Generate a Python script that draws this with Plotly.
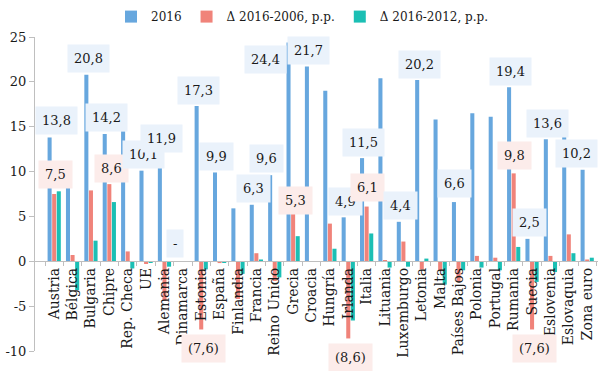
import plotly.graph_objects as go

categories = ["Austria", "Bélgica", "Bulgaria", "Chipre", "Rep. Checa", "UE", "Alemania",
              "Dinamarca", "Estonia", "España", "Finlandia", "Francia", "Reino Unido", "Grecia",
              "Croacia", "Hungría", "Irlanda", "Italia", "Lituania", "Luxemburgo", "Letonia",
              "Malta", "Países Bajos", "Polonia", "Portugal", "Rumania", "Suecia", "Eslovenia",
              "Eslovaquia", "Zona euro"]

v2016 = [13.8, 9.8, 20.8, 14.2, 14.5, 10.1, 11.9, None, 17.3, 9.9, 5.9, 6.3, 9.6, 24.4,
         21.7, 19.0, 4.9, 11.5, 20.4, 4.4, 20.2, 15.8, 6.6, 16.5, 16.1, 19.4, 2.5, 13.6,
         16.4, 10.2]
d2006 = [7.5, 0.7, 7.9, 8.6, 1.1, -0.3, -4.4, None, -7.6, -0.2, -4.2, 0.9, -2.2, 5.3,
         None, 4.2, -8.6, 6.1, 0.1, 2.2, -0.9, -1.1, -2.3, 0.6, 0.4, 9.8, -7.6, 0.6,
         3.0, 0.2]
d2012 = [7.8, -3.2, 2.3, 6.6, -0.8, -0.1, -0.6, None, -0.9, -0.1, -1.4, 0.2, -1.8, 2.8,
         None, 1.4, -6.6, 3.1, -0.7, -0.6, 0.3, -2.6, -1.0, -0.7, -1.0, 1.6, -2.3, -1.2,
         0.9, 0.4]

series_names = ["2016", "Δ 2016-2006, p.p.", "Δ 2016-2012, p.p."]
tick_vals = [-10, -5, 0, 5, 10, 15, 20, 25]
tick_text = ["-10", "-5", "0", "5", "10", "15", "20", "25"]

# labelled points: (category, series index, text)
labels = [
    ("Austria", 0, "13,8"), ("Austria", 1, "7,5"), ("Bulgaria", 0, "20,8"),
    ("Chipre", 0, "14,2"), ("Chipre", 1, "8,6"), ("UE", 0, "10,1"),
    ("Alemania", 0, "11,9"), ("Dinamarca", 0, "-"), ("Estonia", 0, "17,3"),
    ("Estonia", 1, "(7,6)"), ("España", 0, "9,9"), ("Francia", 0, "6,3"),
    ("Reino Unido", 0, "9,6"), ("Grecia", 0, "24,4"), ("Grecia", 1, "5,3"),
    ("Croacia", 0, "21,7"), ("Irlanda", 0, "4,9"), ("Irlanda", 1, "(8,6)"),
    ("Italia", 0, "11,5"), ("Italia", 1, "6,1"), ("Luxemburgo", 0, "4,4"),
    ("Letonia", 0, "20,2"), ("Países Bajos", 0, "6,6"), ("Rumania", 0, "19,4"),
    ("Rumania", 1, "9,8"), ("Suecia", 0, "2,5"), ("Suecia", 1, "(7,6)"),
    ("Eslovenia", 0, "13,6"), ("Zona euro", 0, "10,2"),
]

# style: label pixel nudges (dx, dy) that differ from default
nudges = {
    ("Austria", 0): (7, 17), ("Austria", 1): (1, 20), ("Reino Unido", 0): (-4, 17),
    ("Grecia", 0): (-23, -17), ("Grecia", 1): (2, 13), ("Zona euro", 0): (-6, 16),
    ("Países Bajos", 0): (1, 19), ("Italia", 1): (1, 19), ("Rumania", 1): (1, 18),
    ("Dinamarca", 0): (-3, 18),
}

colors = ["#67a7de", "#f0837a", "#1bbfb4"]
label_bg = ["#eaf2fb", "#fcecea", "#e6f7f5"]
FONT = "DejaVu Serif"

fig = go.Figure()
all_vals = [v2016, d2006, d2012]
for name, vals, col in zip(series_names, all_vals, colors):
    fig.add_trace(go.Bar(x=categories, y=vals, name=name, marker_color=col,
                         marker_line_width=0))

W, H = 600, 371
ml, mr, mt, mb = 35, 2, 37, 20
plot_w = W - ml - mr
cat_w = plot_w / len(categories)
bargap = 0.25
bar_w = cat_w * (1 - bargap) / 3
offsets = [-bar_w, 0, bar_w]

for cat, si, txt in labels:
    i = categories.index(cat)
    val = all_vals[si][i]
    if val is None:
        val = 0
    dx, dy = nudges.get((cat, si), (2, 16 if val >= 0 else -19))
    fig.add_annotation(x=cat, y=val, text=txt, showarrow=False,
                       xshift=offsets[si] + dx, yshift=dy, yanchor="middle",
                       bgcolor=label_bg[si], borderpad=6,
                       font=dict(family=FONT, size=13, color="#1a1a1a"))

ymin, ymax = -10, 25
fig.update_layout(
    width=W, height=H,
    margin=dict(l=ml, r=mr, t=mt, b=mb),
    paper_bgcolor="white", plot_bgcolor="white",
    barmode="group", bargap=bargap, bargroupgap=0.12,
    font=dict(family=FONT, size=13, color="#1a1a1a"),
    legend=dict(orientation="h", x=0.135, xanchor="left", y=1.065, yanchor="middle",
                font=dict(family=FONT, size=12), bgcolor="rgba(0,0,0,0)",
                itemwidth=30),
    showlegend=True,
)
fig.update_yaxes(range=[ymin, ymax], tickvals=tick_vals, ticktext=tick_text,
                 showgrid=False, automargin=False,
                 zeroline=False, showline=True, linecolor="#bfbfbf", linewidth=1,
                 ticks="outside", ticklen=5, tickcolor="#bfbfbf",
                 tickfont=dict(family=FONT, size=13))
fig.update_xaxes(anchor="free", position=(0 - ymin) / (ymax - ymin), automargin=False,
                 showline=True, linecolor="#bfbfbf", linewidth=1,
                 ticks="outside", tickson="boundaries", ticklen=4, tickcolor="#bfbfbf",
                 tickangle=-90, showgrid=False,
                 tickfont=dict(family=FONT, size=14, color="#1a1a1a"))

fig.write_html("out.html", config={"displayModeBar": False},
               post_script="document.body.style.margin='0';document.body.style.padding='0';")
